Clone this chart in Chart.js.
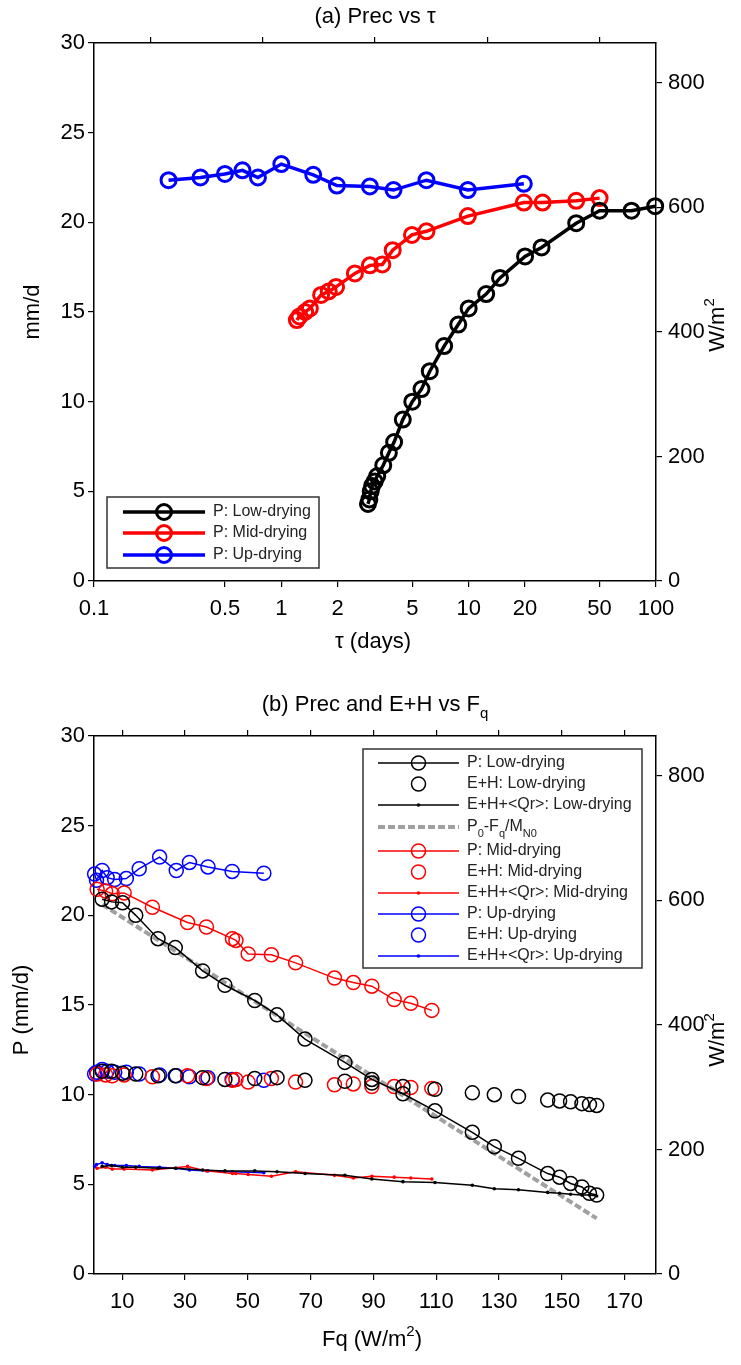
<!DOCTYPE html>
<html>
<head>
<meta charset="utf-8">
<script src="https://cdn.jsdelivr.net/npm/chart.js@4/dist/chart.umd.min.js"></script>
<style>
  body { margin: 0; background: #fff; }
  .panel { position: absolute; left: 0; }
</style>
</head>
<body>
<div class="panel" style="top:0"><canvas id="chartA" width="741" height="665"></canvas></div>
<div class="panel" style="top:665px"><canvas id="chartB" width="741" height="700"></canvas></div>
<script>
// ---- tick labels ----
const tauTicks = [0.1, 0.5, 1, 2, 5, 10, 20, 50, 100];
const precTicks = [0, 5, 10, 15, 20, 25, 30];
const fluxTicks = [0, 200, 400, 600, 800];
const fqTicks = [10, 30, 50, 70, 90, 110, 130, 150, 170];
const topTicksA = [0.1, 0.3, 0.5, 0.7, 0.9];

// ---- (a) precipitation vs tau ----
const lowTau = [2.9, 2.95, 3.0, 3.05, 3.15, 3.25, 3.5, 3.75, 4.0, 4.45, 5.0, 5.6, 6.2, 7.4, 8.8, 10, 12.4, 14.7, 20, 24.5, 37.5, 50, 74, 99];
const lowPrecTau = [4.3, 4.55, 5.0, 5.3, 5.55, 5.85, 6.45, 7.15, 7.75, 9.0, 10.0, 10.7, 11.7, 13.1, 14.3, 15.2, 16.0, 16.9, 18.1, 18.6, 19.95, 20.65, 20.65, 20.9];
const midTau = [1.21, 1.25, 1.34, 1.42, 1.63, 1.79, 1.96, 2.47, 2.97, 3.46, 3.93, 4.98, 5.95, 9.9, 19.7, 24.8, 37.5, 50];
const midPrecTau = [14.55, 14.75, 15.0, 15.2, 15.95, 16.15, 16.4, 17.15, 17.6, 17.65, 18.45, 19.3, 19.5, 20.35, 21.1, 21.1, 21.2, 21.35];
const upTau = [0.25, 0.37, 0.5, 0.62, 0.75, 1.0, 1.48, 1.98, 2.97, 3.97, 5.95, 9.9, 19.7];
const upPrecTau = [22.35, 22.5, 22.7, 22.9, 22.5, 23.25, 22.65, 22.05, 22.0, 21.8, 22.35, 21.8, 22.15];

// ---- (b) precipitation and E+H vs Fq ----
const lowFq = [3.6, 6.6, 10.1, 14.3, 21.4, 26.9, 35.6, 42.7, 52.2, 59.3, 68.2, 80.9, 89.5, 99.4, 109.6, 121.5, 128.5, 136.2, 145.5, 149.3, 152.8, 156.4, 158.8, 161.1];
const lowPrec = [20.9, 20.75, 20.7, 20.0, 18.7, 18.2, 16.9, 16.1, 15.25, 14.45, 13.1, 11.8, 10.85, 10.05, 9.1, 7.9, 7.1, 6.45, 5.6, 5.4, 5.05, 4.85, 4.5, 4.4];
const lowEH = [11.3, 11.3, 11.2, 11.15, 11.05, 11.05, 10.95, 10.85, 10.9, 10.95, 10.8, 10.75, 10.65, 10.45, 10.3, 10.1, 10.0, 9.9, 9.7, 9.65, 9.6, 9.5, 9.45, 9.4];
const lowEHQr = [6.0, 6.05, 5.95, 5.95, 5.9, 5.9, 5.8, 5.75, 5.75, 5.7, 5.6, 5.5, 5.3, 5.15, 5.1, 4.95, 4.75, 4.7, 4.55, 4.5, 4.45, 4.4, 4.4, 4.35];
const fitFq = [3.6, 161.1];
const fitPrec = [20.6, 3.1];
const midFq = [2.0, 4.7, 6.8, 10.6, 19.6, 30.8, 36.8, 45.1, 46.2, 50.1, 57.5, 65.2, 77.6, 83.6, 89.5, 96.6, 101.9, 108.6];
const midPrec = [21.45, 21.35, 21.2, 21.25, 20.45, 19.6, 19.35, 18.7, 18.6, 17.85, 17.8, 17.35, 16.5, 16.25, 16.05, 15.3, 15.1, 14.7];
const midEH = [11.15, 11.1, 11.05, 11.1, 11.0, 11.05, 10.9, 10.8, 10.85, 10.7, 10.9, 10.7, 10.55, 10.6, 10.45, 10.45, 10.4, 10.35];
const midEHQr = [5.9, 5.95, 5.85, 5.85, 5.8, 6.0, 5.75, 5.6, 5.6, 5.55, 5.45, 5.7, 5.5, 5.35, 5.45, 5.4, 5.35, 5.3];
const upFq = [1.2, 1.8, 3.6, 5.2, 7.6, 11.3, 15.4, 21.9, 27.2, 31.4, 37.3, 45.0, 55.1];
const upPrec = [22.3, 21.95, 22.5, 22.1, 22.0, 22.05, 22.6, 23.25, 22.5, 22.95, 22.7, 22.45, 22.35];
const upEH = [11.15, 11.25, 11.4, 11.3, 11.25, 11.25, 11.15, 11.1, 11.05, 11.0, 10.95, 10.85, 10.8];
const upEHQr = [6.0, 6.1, 6.2, 6.1, 6.05, 6.05, 6.0, 5.95, 5.9, 5.8, 5.75, 5.7, 5.65];

const FONT = "'Liberation Sans', Arial, sans-serif";
const TICK_SIZE = 22;
const pts = (xs, ys) => xs.map((x, i) => ({ x, y: ys[i] }));
const setTicks = (list) => (s) => { s.ticks = list.map(v => ({ value: v })); };

// text with sub/superscript parts: [[text, mode], ...]
function richText(ctx, parts, size, align) {
  const small = Math.round(size * 0.7);
  const fontFor = m => `${m ? small : size}px ${FONT}`;
  const widths = parts.map(([t, m]) => { ctx.font = fontFor(m); return ctx.measureText(t).width; });
  const total = widths.reduce((a, b) => a + b, 0);
  let x = align === 'left' ? 0 : -total / 2;
  ctx.textAlign = 'left';
  ctx.textBaseline = 'middle';
  parts.forEach(([t, m], i) => {
    ctx.font = fontFor(m);
    const dy = m === 'sub' ? size * 0.42 : m === 'sup' ? -size * 0.38 : 0;
    ctx.fillText(t, x, dy);
    x += widths[i];
  });
}

const textPlugin = {
  id: 'texts',
  afterDraw(chart, args, opts) {
    const ctx = chart.ctx;
    for (const t of opts.items || []) {
      ctx.save();
      ctx.fillStyle = '#000';
      ctx.translate(t.x, t.y);
      if (t.rot) ctx.rotate(t.rot);
      richText(ctx, t.parts, t.size, 'center');
      ctx.restore();
    }
  }
};

const legendPlugin = {
  id: 'boxLegend',
  afterDraw(chart, args, opts) {
    if (!opts.items) return;
    const ctx = chart.ctx;
    const [bx, by, bw, bh] = opts.box;
    ctx.save();
    ctx.fillStyle = '#fff';
    ctx.fillRect(bx, by, bw, bh);
    ctx.strokeStyle = '#333';
    ctx.lineWidth = 1.5;
    ctx.strokeRect(bx, by, bw, bh);
    opts.items.forEach((item, i) => {
      const ds = chart.data.datasets[item.ds];
      const y = opts.rows[i];
      const [x0, x1] = opts.line;
      const xm = (x0 + x1) / 2;
      if (ds.showLine !== false) {
        ctx.save();
        ctx.strokeStyle = ds.borderColor;
        ctx.lineWidth = ds.borderWidth;
        ctx.setLineDash(ds.borderDash || []);
        ctx.beginPath();
        ctx.moveTo(x0, y);
        ctx.lineTo(x1, y);
        ctx.stroke();
        ctx.restore();
      }
      if (ds.pointRadius > 0) {
        ctx.beginPath();
        ctx.arc(xm, y, ds.pointRadius, 0, Math.PI * 2);
        if (ds.pointBorderWidth > 0) {
          ctx.strokeStyle = ds.borderColor;
          ctx.lineWidth = ds.pointBorderWidth;
          ctx.stroke();
        } else {
          ctx.fillStyle = ds.borderColor;
          ctx.fill();
        }
      }
      ctx.fillStyle = '#222';
      ctx.save();
      ctx.translate(opts.textX, y);
      richText(ctx, item.text, opts.size, 'left');
      ctx.restore();
    });
    ctx.restore();
  }
};

function axisStyle(extra) {
  return Object.assign({
    grid: { drawOnChartArea: false, drawTicks: true, tickLength: 6, color: '#000', lineWidth: 1.2 },
    border: { display: true, color: '#000', width: 1.5 },
  }, extra);
}
const tickStyle = (extra) => Object.assign({
  font: { family: FONT, size: TICK_SIZE }, color: '#000', autoSkip: false, maxRotation: 0, minRotation: 0,
}, extra);

// dataset styles
const bigLine = (color, xs, ys) => ({
  data: pts(xs, ys), borderColor: color, borderWidth: 3.5, pointRadius: 7.5, pointBorderWidth: 3,
  pointBackgroundColor: 'rgba(0,0,0,0)', pointBorderColor: color, clip: false,
});
const pLine = (color, xs, ys) => ({
  data: pts(xs, ys), borderColor: color, borderWidth: 1.5, pointRadius: 7, pointBorderWidth: 1.5,
  pointBackgroundColor: 'rgba(0,0,0,0)', pointBorderColor: color, clip: false,
});
const ehDots = (color, xs, ys) => ({
  data: pts(xs, ys), borderColor: color, borderWidth: 1.5, showLine: false, pointRadius: 7, pointBorderWidth: 1.5,
  pointBackgroundColor: 'rgba(0,0,0,0)', pointBorderColor: color, clip: false,
});
const qrLine = (color, xs, ys) => ({
  data: pts(xs, ys), borderColor: color, borderWidth: 1.5, pointRadius: 1.8, pointBorderWidth: 0,
  pointBackgroundColor: color, pointBorderColor: color, clip: false,
});

const common = {
  responsive: false,
  animation: false,
  events: [],
  layout: { padding: 0 },
};

// ---------- chart (a) ----------
new Chart(document.getElementById('chartA'), {
  type: 'line',
  data: {
    datasets: [
      bigLine('#000000', lowTau, lowPrecTau),
      bigLine('#ff0000', midTau, midPrecTau),
      bigLine('#0000ff', upTau, upPrecTau),
    ],
  },
  plugins: [textPlugin, legendPlugin],
  options: {
    ...common,
    scales: {
      x: axisStyle({
        type: 'logarithmic', position: 'bottom', min: 0.1, max: 100,
        afterBuildTicks: setTicks(tauTicks),
        afterFit: s => { s.height = 665 - 581; },
        ticks: tickStyle({ padding: 9, callback: v => String(v) }),
      }),
      xTop: axisStyle({
        type: 'linear', position: 'top', min: 0, max: 1,
        afterBuildTicks: setTicks(topTicksA),
        afterFit: s => { s.height = 43; },
        ticks: { display: false },
      }),
      y: axisStyle({
        type: 'linear', position: 'left', min: 0, max: 30,
        afterBuildTicks: setTicks(precTicks),
        afterFit: s => { s.width = 94; },
        ticks: tickStyle({ padding: 3 }),
      }),
      y2: axisStyle({
        type: 'linear', position: 'right', min: 0, max: 864,
        afterBuildTicks: setTicks(fluxTicks),
        afterFit: s => { s.width = 741 - 656; },
        ticks: tickStyle({ padding: 6 }),
      }),
    },
    plugins: {
      legend: { display: false },
      tooltip: { enabled: false },
      texts: {
        items: [
          { x: 375, y: 17, size: 22, parts: [['(a) Prec vs \u03c4', '']] },
          { x: 373, y: 642, size: 22, parts: [['\u03c4 (days)', '']] },
          { x: 33, y: 312, size: 22, rot: -Math.PI / 2, parts: [['mm/d', '']] },
          { x: 718, y: 325, size: 22, rot: -Math.PI / 2, parts: [['W/m', ''], ['2', 'sup']] },
        ],
      },
      boxLegend: {
        box: [107, 497, 212, 71], line: [123, 205], textX: 213, size: 16,
        rows: [512, 533, 555],
        items: [
          { ds: 0, text: [['P: Low-drying', '']] },
          { ds: 1, text: [['P: Mid-drying', '']] },
          { ds: 2, text: [['P: Up-drying', '']] },
        ],
      },
    },
  },
});

// ---------- chart (b) ----------
new Chart(document.getElementById('chartB'), {
  type: 'line',
  data: {
    datasets: [
      pLine('#000000', lowFq, lowPrec),
      ehDots('#000000', lowFq, lowEH),
      qrLine('#000000', lowFq, lowEHQr),
      { data: pts(fitFq, fitPrec), borderColor: '#a0a0a0', borderWidth: 4, borderDash: [7, 3], pointRadius: 0, clip: false },
      pLine('#ff0000', midFq, midPrec),
      ehDots('#ff0000', midFq, midEH),
      qrLine('#ff0000', midFq, midEHQr),
      pLine('#0000ff', upFq, upPrec),
      ehDots('#0000ff', upFq, upEH),
      qrLine('#0000ff', upFq, upEHQr),
    ],
  },
  plugins: [textPlugin, legendPlugin],
  options: {
    ...common,
    scales: {
      x: axisStyle({
        type: 'linear', position: 'bottom', min: 1, max: 180,
        afterBuildTicks: setTicks(fqTicks),
        afterFit: s => { s.height = 700 - 609; },
        ticks: tickStyle({ padding: 9 }),
      }),
      xTop: axisStyle({
        type: 'linear', position: 'top', min: 1, max: 180,
        afterBuildTicks: setTicks(fqTicks),
        afterFit: s => { s.height = 71; },
        ticks: { display: false },
      }),
      y: axisStyle({
        type: 'linear', position: 'left', min: 0, max: 30,
        afterBuildTicks: setTicks(precTicks),
        afterFit: s => { s.width = 94; },
        ticks: tickStyle({ padding: 3 }),
      }),
      y2: axisStyle({
        type: 'linear', position: 'right', min: 0, max: 864,
        afterBuildTicks: setTicks(fluxTicks),
        afterFit: s => { s.width = 741 - 656; },
        ticks: tickStyle({ padding: 6 }),
      }),
    },
    plugins: {
      legend: { display: false },
      tooltip: { enabled: false },
      texts: {
        items: [
          { x: 375, y: 40, size: 22, parts: [['(b) Prec and E+H vs F', ''], ['q', 'sub']] },
          { x: 372, y: 675, size: 22, parts: [['Fq (W/m', ''], ['2', 'sup'], [')', '']] },
          { x: 22, y: 345, size: 22, rot: -Math.PI / 2, parts: [['P (mm/d)', '']] },
          { x: 718, y: 375, size: 22, rot: -Math.PI / 2, parts: [['W/m', ''], ['2', 'sup']] },
        ],
      },
      boxLegend: {
        box: [363, 84, 279, 219], line: [378, 459], textX: 467, size: 16,
        rows: [98, 119, 140, 162, 186, 207, 228, 249, 270, 291],
        items: [
          { ds: 0, text: [['P: Low-drying', '']] },
          { ds: 1, text: [['E+H: Low-drying', '']] },
          { ds: 2, text: [['E+H+<Qr>: Low-drying', '']] },
          { ds: 3, text: [['P', ''], ['0', 'sub'], ['-F', ''], ['q', 'sub'], ['/M', ''], ['N0', 'sub']] },
          { ds: 4, text: [['P: Mid-drying', '']] },
          { ds: 5, text: [['E+H: Mid-drying', '']] },
          { ds: 6, text: [['E+H+<Qr>: Mid-drying', '']] },
          { ds: 7, text: [['P: Up-drying', '']] },
          { ds: 8, text: [['E+H: Up-drying', '']] },
          { ds: 9, text: [['E+H+<Qr>: Up-drying', '']] },
        ],
      },
    },
  },
});
</script>
</body>
</html>
